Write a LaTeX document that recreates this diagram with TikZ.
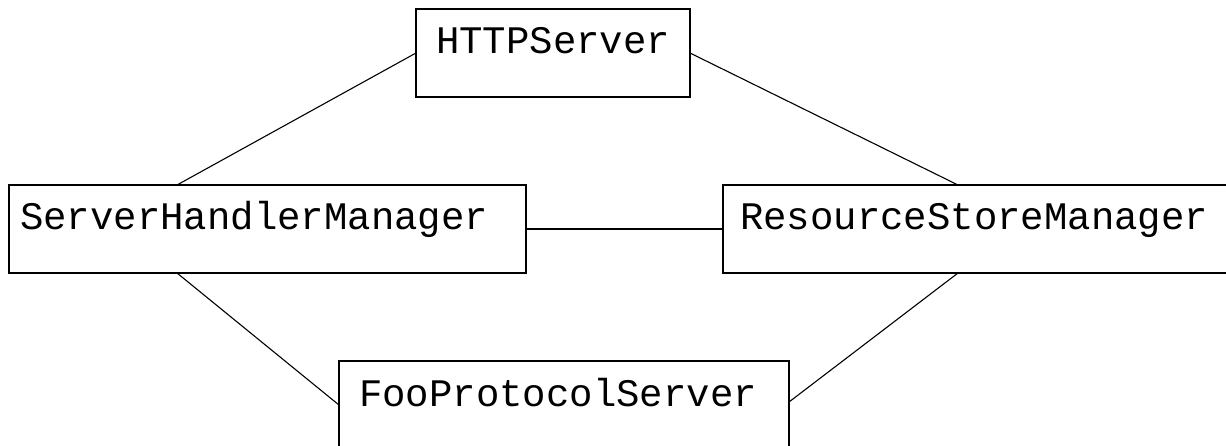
\documentclass[tikz,border=0pt]{standalone}
\usepackage{fontspec}
\newfontfamily\boxfont{Liberation Mono}
\begin{document}
\begin{tikzpicture}[x=1pt,y=-1pt,
  classbox/.style={draw, line width=1.6pt, rectangle, anchor=north west,
    inner ysep=0pt, align=left, outer sep=0pt,
    font=\boxfont\fontsize{39}{40}\selectfont,
    text height=45pt},
  link/.style={line width=1.1pt}]
  \useasboundingbox (0,0) rectangle (1226,446);
  % components
  \node[classbox, inner xsep=20pt, text width=234pt, text depth=43pt] (http) at (416,9) {HTTPServer};
  \node[classbox, inner xsep=11pt, text width=495pt, text depth=43pt] (shm) at (9,185) {ServerHandlerManager};
  \node[classbox, inner xsep=17pt, text width=470pt, text depth=43pt] (rsm) at (723,185) {ResourceStoreManager};
  \node[classbox, inner xsep=20pt, text width=410pt, text depth=46pt] (fps) at (339,361) {FooProtocolServer};
  % connections
  \draw[link] (http.west) -- ([xshift=168pt]shm.north west);
  \draw[link] (http.east) -- ([xshift=235pt]rsm.north west);
  \draw[link] (shm.east) -- (rsm.west);
  \draw[link] ([xshift=168pt]shm.south west) -- ([yshift=-44pt]fps.north west);
  \draw[link] ([xshift=235pt]rsm.south west) -- ([yshift=-41pt]fps.north east);
\end{tikzpicture}
\end{document}
